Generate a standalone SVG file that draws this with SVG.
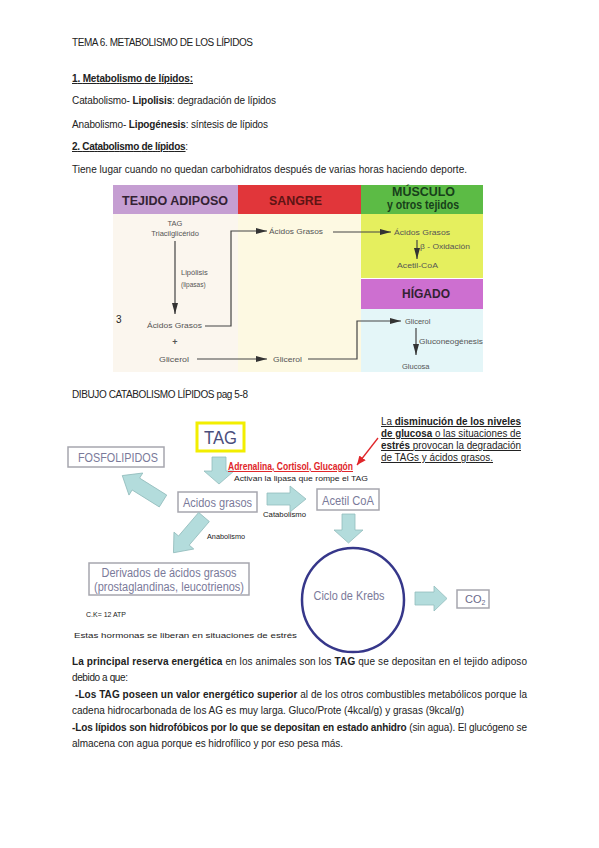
<svg xmlns="http://www.w3.org/2000/svg" width="599" height="848" viewBox="0 0 599 848">
<style>
  .doc{font-family:"Liberation Sans","Open Sans",sans-serif;font-size:10px;fill:#222}
  .b{font-weight:bold}
  .u{text-decoration:underline}
  .f1{font-family:"Liberation Sans",Arial,sans-serif;font-size:7.5px;fill:#555}
  .hdr{font-family:"Liberation Sans",Arial,sans-serif;font-weight:bold;font-size:13px}
  .ln{fill:none;stroke:#444;stroke-width:1.2}
  .box{fill:#fff;stroke:#a6a6ae;stroke-width:1.5}
  .bt{font-family:"Liberation Sans",Arial,sans-serif;font-size:12.5px;fill:#7a7a9a;text-anchor:middle}
  .blk{fill:#b3dcdc;stroke:#93bcbc;stroke-width:0.8}
  .sm{font-family:"Liberation Sans",Arial,sans-serif;font-size:8px;fill:#222}
  .ann{font-family:"Liberation Sans",Arial,sans-serif;font-size:10px;fill:#222;text-decoration:underline}
</style>
<defs>
  <marker id="ah" markerUnits="userSpaceOnUse" markerWidth="12" markerHeight="6" refX="11" refY="3" orient="auto">
    <path d="M0,0 L11,3 L0,6 Z" fill="#333"/>
  </marker>
  <marker id="ahr" markerUnits="userSpaceOnUse" markerWidth="10" markerHeight="8" refX="9" refY="4" orient="auto">
    <path d="M0,0 L9,4 L0,8 Z" fill="#e0262a"/>
  </marker>
</defs>
<rect width="599" height="848" fill="#fff"/>

<!-- Document text top -->
<g id="text-top" class="doc">
  <text x="72" y="46" textLength="181" lengthAdjust="spacing">TEMA 6. METABOLISMO DE LOS LÍPIDOS</text>
  <text x="72" y="82" class="b u" textLength="121" lengthAdjust="spacing">1. Metabolismo de lípidos:</text>
  <text x="72" y="104" textLength="204" lengthAdjust="spacing">Catabolismo- <tspan class="b">Lipolisis</tspan>: degradación de lípidos</text>
  <text x="72" y="128" textLength="196" lengthAdjust="spacing">Anabolismo- <tspan class="b">Lipogénesis</tspan>: síntesis de lípidos</text>
  <text x="72" y="150" textLength="116" lengthAdjust="spacing"><tspan class="b u">2. Catabolismo de lípidos</tspan>:</text>
  <text x="72" y="173" textLength="395" lengthAdjust="spacing">Tiene lugar cuando no quedan carbohidratos después de varias horas haciendo deporte.</text>
</g>

<!-- Figure 1 -->
<g id="fig1-bg">
  <rect x="113" y="214" width="125" height="158" fill="#fbf6ee"/>
  <rect x="238" y="214" width="123" height="158" fill="#fdf9e2"/>
  <rect x="361" y="214" width="122" height="64" fill="#e5ef5e"/>
  <rect x="361" y="279" width="122" height="30" fill="#cd6fd0"/>
  <rect x="361" y="309" width="122" height="63" fill="#e4f6f8"/>
</g>
<g id="hdr-adiposo">
  <rect x="113" y="185" width="125" height="29" fill="#c59ed2"/>
  <text x="122" y="205" class="hdr" fill="#332233" textLength="106" lengthAdjust="spacingAndGlyphs">TEJIDO ADIPOSO</text>
</g>
<g id="hdr-sangre">
  <rect x="238" y="185" width="123" height="29" fill="#e1363a"/>
  <text x="269" y="205" class="hdr" fill="#5e1414" textLength="53" lengthAdjust="spacingAndGlyphs">SANGRE</text>
</g>
<g id="hdr-musculo">
  <rect x="361" y="185" width="122" height="29" fill="#5cbb45"/>
  <text x="392" y="196" class="hdr" font-size="10.5" fill="#17401a" textLength="63" lengthAdjust="spacingAndGlyphs">MÚSCULO</text>
  <text x="387" y="209" class="hdr" font-size="8" fill="#17401a" textLength="72" lengthAdjust="spacingAndGlyphs">y otros tejidos</text>
</g>
<g id="hdr-higado">
  <text x="402" y="298" class="hdr" fill="#332233" textLength="48" lengthAdjust="spacingAndGlyphs">HÍGADO</text>
</g>

<g id="fig1-connectors">
  <line class="ln" x1="175" y1="241" x2="175" y2="314" marker-end="url(#ah)"/>
  <polyline class="ln" points="205,326 231,326 231,231 267,231" marker-end="url(#ah)"/>
  <line class="ln" x1="197" y1="359" x2="267" y2="359" marker-end="url(#ah)"/>
  <polyline class="ln" points="308,359 357,359 357,321 401,321" marker-end="url(#ah)"/>
  <line class="ln" x1="333" y1="232" x2="391" y2="232" marker-end="url(#ah)"/>
  <line class="ln" x1="417" y1="240" x2="417" y2="259" marker-end="url(#ah)"/>
  <line class="ln" x1="416" y1="328" x2="416" y2="355" marker-end="url(#ah)"/>
</g>

<g id="fig1-labels" class="f1">
  <text x="175" y="226" text-anchor="middle">TAG</text>
  <text x="175" y="236" text-anchor="middle">Triacilglicérido</text>
  <text x="181" y="275">Lipólisis</text>
  <text x="181" y="287" font-size="6.5">(lipasas)</text>
  <text x="147" y="328" textLength="55" lengthAdjust="spacingAndGlyphs">Ácidos Grasos</text>
  <text x="175" y="345" text-anchor="middle" font-weight="bold" font-size="9">+</text>
  <text x="159" y="362" textLength="30" lengthAdjust="spacingAndGlyphs">Glicerol</text>
  <text x="269" y="234" textLength="54" lengthAdjust="spacingAndGlyphs">Ácidos Grasos</text>
  <text x="273" y="362" textLength="29" lengthAdjust="spacingAndGlyphs">Glicerol</text>
  <text x="394" y="235" textLength="56" lengthAdjust="spacingAndGlyphs">Ácidos Grasos</text>
  <text x="420" y="249" textLength="50" lengthAdjust="spacingAndGlyphs">β - Oxidación</text>
  <text x="397" y="268" textLength="41" lengthAdjust="spacingAndGlyphs">Acetil-CoA</text>
  <text x="405" y="324">Glicerol</text>
  <text x="419" y="344" textLength="64" lengthAdjust="spacingAndGlyphs">Gluconeogénesis</text>
  <text x="402" y="369">Glucosa</text>
</g>
<text x="116" y="323" class="doc">3</text>

<!-- Caption 2 -->
<text x="72" y="398" class="doc" textLength="176" lengthAdjust="spacing">DIBUJO CATABOLISMO LÍPIDOS pag 5-8</text>

<!-- Figure 2 nodes -->
<g id="n-tag">
  <rect x="197" y="423" width="47" height="28" fill="#fff" stroke="#f2ee00" stroke-width="3"/>
  <text x="220.5" y="444" font-family="Liberation Sans, Arial, sans-serif" font-size="18" fill="#4a4e7c" text-anchor="middle" textLength="33" lengthAdjust="spacingAndGlyphs">TAG</text>
</g>
<g id="n-fosfolipidos">
  <rect class="box" x="68" y="447" width="96" height="20"/>
  <text class="bt" x="118" y="462" font-size="12" textLength="80" lengthAdjust="spacingAndGlyphs">FOSFOLIPIDOS</text>
</g>
<g id="n-acidos">
  <rect class="box" x="178" y="492" width="79" height="20"/>
  <text class="bt" x="217.5" y="507" textLength="69" lengthAdjust="spacingAndGlyphs">Acidos grasos</text>
</g>
<g id="n-acetil">
  <rect class="box" x="317" y="489" width="62" height="21"/>
  <text class="bt" x="348" y="505" textLength="52" lengthAdjust="spacingAndGlyphs">Acetil CoA</text>
</g>
<g id="n-derivados">
  <rect class="box" x="89" y="563" width="160" height="32"/>
  <text class="bt" x="169" y="577" textLength="135" lengthAdjust="spacingAndGlyphs">Derivados de ácidos grasos</text>
  <text class="bt" x="169" y="591" textLength="150" lengthAdjust="spacingAndGlyphs">(prostaglandinas, leucotrienos)</text>
</g>
<g id="n-krebs">
  <ellipse cx="353" cy="600" rx="51" ry="52" fill="none" stroke="#36378a" stroke-width="2.5"/>
  <text class="bt" x="349" y="600" textLength="71" lengthAdjust="spacingAndGlyphs">Ciclo de Krebs</text>
</g>
<g id="n-co2">
  <rect class="box" x="457" y="590" width="32" height="18"/>
  <text x="465" y="603" font-family="Liberation Sans, Arial, sans-serif" font-size="11" fill="#6a6a8a">CO<tspan font-size="7" dy="2">2</tspan></text>
</g>

<!-- Figure 2 connectors -->
<g id="connectors">
  <polygon class="blk" points="212,457 226,457 226,471 234,471 219,484 204,471 212,471"/>
  <polygon class="blk" points="267,493 290,493 290,486 306,499 290,512 290,505 267,505"/>
  <polygon class="blk" points="342,514 355,514 355,530 363,530 348.5,543 334,530 342,530"/>
  <polygon class="blk" points="415,592 434,592 434,586 447,598.5 434,611 434,605 415,605"/>
  <polygon class="blk" transform="translate(163,501) rotate(212)" points="0,-7 32,-7 32,-13 48,0 32,13 32,7 0,7"/>
  <polygon class="blk" transform="translate(204,517) rotate(130.5)" points="0,-7 31,-7 31,-13 47,0 31,13 31,7 0,7"/>
  <line x1="378" y1="438" x2="357" y2="465" stroke="#e0262a" stroke-width="1.3" marker-end="url(#ahr)"/>
</g>

<g id="fig2-labels">
  <text x="263" y="517" class="sm" font-size="7.5" textLength="43" lengthAdjust="spacingAndGlyphs">Catabolismo</text>
  <text x="207" y="539" class="sm" font-size="7.5" textLength="38" lengthAdjust="spacingAndGlyphs">Anabolismo</text>
  <text x="228" y="470" font-family="Liberation Sans, Arial, sans-serif" font-size="10" font-weight="bold" fill="#e0262a" text-decoration="underline" textLength="125" lengthAdjust="spacingAndGlyphs">Adrenalina, Cortisol, Glucagón</text>
  <text x="234" y="481" class="sm" font-size="9" textLength="134" lengthAdjust="spacingAndGlyphs">Activan la lipasa que rompe el TAG</text>
  <text x="86" y="617" class="sm" font-size="7.5" textLength="40" lengthAdjust="spacingAndGlyphs">C.K= 12 ATP</text>
  <text x="74" y="638" class="sm" font-size="10.5" fill="#333" textLength="223" lengthAdjust="spacingAndGlyphs">Estas hormonas se liberan en situaciones de estrés</text>
  <text x="381" y="425" class="ann" textLength="140" lengthAdjust="spacingAndGlyphs">La <tspan class="b">disminución de los niveles</tspan></text>
  <text x="381" y="437" class="ann" textLength="140" lengthAdjust="spacingAndGlyphs"><tspan class="b">de glucosa</tspan> o las situaciones de</text>
  <text x="381" y="449" class="ann" textLength="140" lengthAdjust="spacingAndGlyphs"><tspan class="b">estrés</tspan> provocan la degradación</text>
  <text x="381" y="461" class="ann" textLength="112" lengthAdjust="spacingAndGlyphs">de TAGs y ácidos grasos.</text>
</g>

<!-- Document text bottom -->
<g id="text-bottom" class="doc">
  <text x="72" y="665" textLength="455" lengthAdjust="spacing"><tspan class="b">La principal reserva energética</tspan> en los animales son los <tspan class="b">TAG</tspan> que se depositan en el tejido adiposo</text>
  <text x="72" y="681" textLength="56" lengthAdjust="spacing">debido a que:</text>
  <text x="75" y="698" textLength="452" lengthAdjust="spacing"><tspan class="b">-Los TAG poseen un valor energético superior</tspan> al de los otros combustibles metabólicos porque la</text>
  <text x="72" y="714" textLength="392" lengthAdjust="spacing">cadena hidrocarbonada de los AG es muy larga. Gluco/Prote (4kcal/g) y grasas (9kcal/g)</text>
  <text x="72" y="731" textLength="455" lengthAdjust="spacing"><tspan class="b">-Los lípidos son hidrofóbicos por lo que se depositan en estado anhidro</tspan> (sin agua). El glucógeno se</text>
  <text x="72" y="747" textLength="271" lengthAdjust="spacing">almacena con agua porque es hidrofílico y por eso pesa más.</text>
</g>
</svg>
